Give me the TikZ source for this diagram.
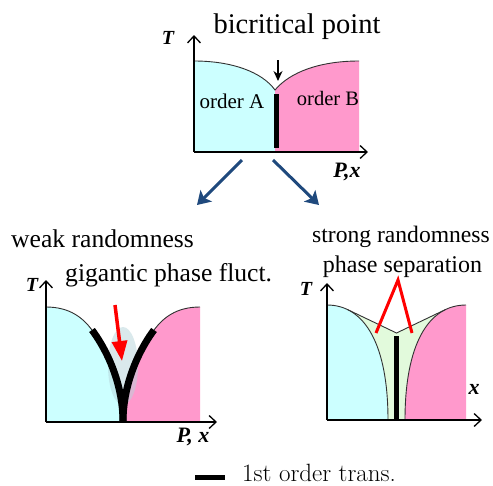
\documentclass[tikz,border=0pt]{standalone}
\usepackage{fontspec}
\newfontfamily\tnr{Liberation Serif}
\usetikzlibrary{arrows.meta}
\definecolor{cyanA}{RGB}{204,255,255}
\definecolor{pinkB}{RGB}{255,153,204}
\definecolor{greenC}{RGB}{226,250,220}
\definecolor{blobc}{RGB}{182,213,219}
\definecolor{arrowblue}{RGB}{31,73,125}
\definecolor{edgec}{RGB}{50,50,50}
\tikzset{
  lbl/.style={font=\tnr\fontsize{#1}{#1}\selectfont, inner sep=0pt, anchor=base},
  axlbl/.style={font=\tnr\bfseries\itshape\fontsize{#1}{#1}\selectfont, inner sep=0pt, anchor=base},
  axisline/.style={line width=1.5pt, -{Straight Barb[length=7pt,width=13pt,line width=1.3pt]}},
  edgeline/.style={draw=edgec, line width=0.9pt},
  firstorder/.style={line width=5pt},
  thickline/.style={line width=7pt},
  bluearrow/.style={arrowblue, line width=3pt, -{Stealth[length=13pt,width=16pt,inset=3pt]}},
  redline/.style={red, line width=3pt},
}
\begin{document}
\begin{tikzpicture}[x=1pt,y=-1pt]
\useasboundingbox (0,0) rectangle (493,485);
\fill[white] (0,0) rectangle (493,485);

% ---------- top diagram ----------
\coordinate (O1) at (194,152);
\coordinate (Y1) at (194,35);
\coordinate (X1) at (368,152);
\coordinate (C1) at (275,90);
\fill[cyanA] (194,61) .. controls (232,61) and (262,72) .. (C1) -- (275,152) -- (194,152) -- cycle;
\fill[pinkB] (C1) .. controls (290,72) and (320,61) .. (359,61) -- (359,152) -- (275,152) -- cycle;
\draw[edgeline] (194,61) .. controls (232,61) and (262,72) .. (C1) .. controls (290,72) and (320,61) .. (359,61);
\coordinate (B1t) at (276.5,94);
\coordinate (B1b) at (276.5,148);
\draw[firstorder] (B1t) -- (B1b);
\draw[axisline] (O1) -- (Y1);
\draw[axisline] (O1) -- (X1);
\coordinate (DA1) at (278,60);
\coordinate (DA2) at (278,81);
\draw[line width=1.3pt, -{Stealth[length=10pt,width=9pt]}] (DA1) -- (DA2);
\node[lbl=28.5] (bic) at (297,33) {bicritical point};
\node[lbl=21] (oA) at (232,108) {order A};
\node[lbl=20.5] (oB) at (328,105) {order B};
\node[axlbl=20] (T1) at (168,44) {T};
\node[axlbl=22] (P1) at (347,177) {P,x};

% ---------- arrows ----------
\coordinate (L1) at (242,160);
\coordinate (L2) at (197,205);
\coordinate (R1) at (273,160);
\coordinate (R2) at (319,205);
\draw[bluearrow] (L1) -- (L2);
\draw[bluearrow] (R1) -- (R2);

% ---------- weak randomness ----------
\coordinate (O2) at (46,422);
\coordinate (Y2) at (46,280);
\coordinate (X2) at (217,422);
\fill[cyanA] (46,307) .. controls (70,307) and (83,318) .. (92,330) .. controls (104,346) and (123,380) .. (123,422) -- (46,422) -- cycle;
\fill[pinkB] (123,422) .. controls (123,380) and (142,346) .. (154,330) .. controls (163,318) and (176,307) .. (200,307) -- (200,422) -- cycle;
\fill[blobc, opacity=0.5] (123,366) ellipse [x radius=15, y radius=39];
\draw[edgeline] (46,307) .. controls (70,307) and (83,318) .. (92,330);
\draw[edgeline] (154,330) .. controls (163,318) and (176,307) .. (200,307);
\draw[thickline] (92,330) .. controls (104,346) and (123,380) .. (123,422);
\draw[thickline] (154,330) .. controls (142,346) and (123,380) .. (123,422);
\draw[axisline] (O2) -- (Y2);
\draw[axisline] (O2) -- (X2);
\coordinate (RA1) at (115,305);
\coordinate (RA2) at (122,361);
\draw[red, line width=3.5pt, -{Triangle[length=20pt,width=15pt]}] (RA1) -- (RA2);
\node[lbl=25.6, anchor=base west] (weak) at (11,247) {weak randomness};
\node[lbl=25.6, anchor=base west] (gig) at (65,281) {gigantic phase fluct.};
\node[axlbl=20] (T2) at (32,291) {T};
\node[axlbl=22] (P2) at (193,442) {P, x};

% ---------- strong randomness ----------
\coordinate (O3) at (327,420);
\coordinate (Y3) at (327,283);
\coordinate (X3) at (482,420);
\coordinate (cusp) at (396.5,333);
\path (327,305) .. controls (365,305) and (388,345) .. (388,420) coordinate[pos=0.2] (jl);
\path (466,305) .. controls (428,305) and (405,345) .. (405,420) coordinate[pos=0.2] (jr);
\fill[greenC] (jl) -- (cusp) -- (jr) -- (jr |- O3) -- (jl |- O3) -- cycle;
\fill[cyanA] (327,305) .. controls (365,305) and (388,345) .. (388,420) -- (327,420) -- cycle;
\fill[pinkB] (466,305) .. controls (428,305) and (405,345) .. (405,420) -- (466,420) -- cycle;
\draw[edgeline] (327,305) .. controls (365,305) and (388,345) .. (388,420);
\draw[edgeline] (466,305) .. controls (428,305) and (405,345) .. (405,420);
\draw[edgeline] (jl) -- (cusp) -- (jr);
\coordinate (B3t) at (396.5,336);
\coordinate (B3b) at (396.5,420);
\draw[firstorder] (B3t) -- (B3b);
\draw[axisline] (O3) -- (Y3);
\draw[axisline] (O3) -- (X3);
\coordinate (apex) at (398,280);
\coordinate (rl) at (376,333);
\coordinate (rr) at (412,333);
\draw[redline] (rl) -- (apex) -- (rr);
\node[lbl=23.6] (strong) at (401,242) {strong randomness};
\node[lbl=24] (sep) at (402.5,272) {phase separation};
\node[axlbl=20] (T3) at (306,295) {T};
\node[axlbl=22] (X3l) at (474,394) {x};

% ---------- legend ----------
\coordinate (lg1) at (195,477);
\coordinate (lg2) at (225,477);
\draw[firstorder] (lg1) -- (lg2);
\node[font=\fontsize{25}{25}\selectfont, inner sep=0pt, anchor=base west] (leg) at (242,481) {1st order trans.};
\end{tikzpicture}
\end{document}
